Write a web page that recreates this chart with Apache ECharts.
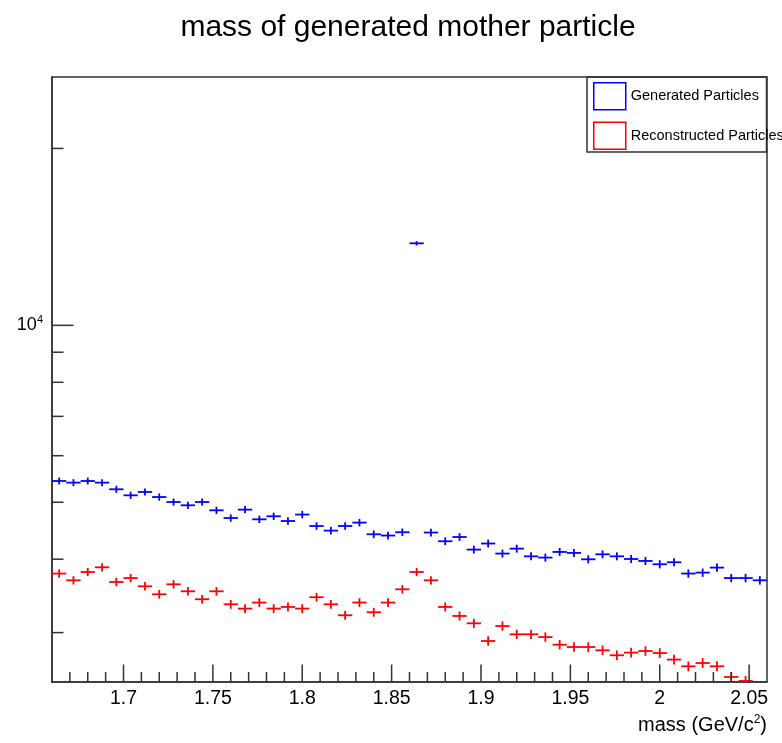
<!DOCTYPE html>
<html><head><meta charset="utf-8">
<script src="https://cdn.jsdelivr.net/npm/echarts@6/dist/echarts.min.js"></script>
<style>html,body{margin:0;padding:0;background:#fff}#c{width:782px;height:743px}</style>
</head><body><div id="c"></div>
<script>
// ---- data ----
const binWidth = 0.008;
const binCenters = [1.664,1.672,1.680,1.688,1.696,1.704,1.712,1.720,1.728,1.736,
  1.744,1.752,1.760,1.768,1.776,1.784,1.792,1.800,1.808,1.816,
  1.824,1.832,1.840,1.848,1.856,1.864,1.872,1.880,1.888,1.896,
  1.904,1.912,1.920,1.928,1.936,1.944,1.952,1.960,1.968,1.976,
  1.984,1.992,2.000,2.008,2.016,2.024,2.032,2.040,2.048,2.056];
const generated = [5434,5399,5434,5399,5260,5137,5205,5103,5004,4940,
  5004,4844,4700,4857,4676,4732,4645,4764,4555,4474,
  4555,4616,4410,4388,4445,13790,4440,4291,4363,4153,
  4253,4089,4169,4045,4025,4115,4099,3998,4077,4045,
  4003,3972,3921,3952,3781,3795,3870,3715,3715,3682];
const reconstructed = [3781,3682,3804,3875,3658,3715,3597,3486,3625,3527,
  3419,3527,3352,3296,3375,3296,3317,3296,3446,3352,
  3211,3375,3249,3375,3555,3804,3682,3317,3202,3111,
  2903,3078,2980,2980,2948,2861,2835,2835,2799,2745,
  2774,2791,2769,2699,2629,2663,2629,2521,2482,2400];
const xRange = [1.66, 2.06];
const yRange = [2472, 26460];
const xLabelValues = [1.7,1.75,1.8,1.85,1.9,1.95,2.0,2.05];
const xLabelTexts = ['1.7','1.75','1.8','1.85','1.9','1.95','2','2.05'];
const xMinorTicks = [1.67,1.68,1.69,1.71,1.72,1.73,1.74,1.76,1.77,1.78,1.79,
  1.81,1.82,1.83,1.84,1.86,1.87,1.88,1.89,1.91,1.92,1.93,1.94,
  1.96,1.97,1.98,1.99,2.01,2.02,2.03,2.04];
const yMajorTicks = [10000];
const yMinorTicks = [3000,4000,5000,6000,7000,8000,9000,20000];
const seriesNames = ['Generated Particles','Reconstructed Particles'];

// ---- chart ----
const FONT = '"Liberation Sans",Arial,Helvetica,sans-serif';
const AXC = '#333';
const chart = echarts.init(document.getElementById('c'), null, {renderer:'canvas'});

function histRender(color){
  return function(params, api){
    const c = api.value(0), v = api.value(1), e = Math.sqrt(v);
    const a = api.coord([c - binWidth/2, v]);
    const b = api.coord([c + binWidth/2, v]);
    const t = api.coord([c, v + e]);
    const d = api.coord([c, v - e]);
    return {type:'group', children:[
      {type:'line', shape:{x1:a[0],y1:a[1],x2:b[0],y2:b[1]}, style:{stroke:color,lineWidth:1.8}},
      {type:'line', shape:{x1:t[0],y1:t[1],x2:d[0],y2:d[1]}, style:{stroke:color,lineWidth:1.8}}
    ]};
  };
}
function xTickRender(len){
  return function(params, api){
    const p = api.coord([api.value(0), yRange[0]]);
    return {type:'line', shape:{x1:p[0],y1:p[1],x2:p[0],y2:p[1]-len}, style:{stroke:AXC,lineWidth:1.5}};
  };
}
function yTickRender(len){
  return function(params, api){
    const p = api.coord([xRange[0], api.value(1)]);
    return {type:'line', shape:{x1:p[0],y1:p[1],x2:p[0]+len,y2:p[1]}, style:{stroke:AXC,lineWidth:1.5}};
  };
}

const option = {
  animation:false,
  backgroundColor:'#fff',
  title:{
    text:'mass of generated mother particle',
    left:408, textAlign:'center', top:13, padding:0,
    textStyle:{fontFamily:FONT, fontSize:30, fontWeight:'normal', color:'#000'}
  },
  grid:{left:52, right:15, top:77, bottom:61, outerBoundsMode:'none', containLabel:false,
    show:true, borderColor:AXC, borderWidth:1.5, backgroundColor:'transparent'},
  legend:{
    orient:'vertical', left:593, top:82, padding:0, itemGap:11,
    itemWidth:32, itemHeight:27, icon:'rect',
    textStyle:{fontFamily:FONT, fontSize:14.5, color:'#000'},
    data:[
      {name:seriesNames[0], itemStyle:{color:'#fff', borderColor:'#0000ff', borderWidth:1.5}},
      {name:seriesNames[1], itemStyle:{color:'#fff', borderColor:'#ff0000', borderWidth:1.5}}
    ]
  },
  graphic:[{type:'rect', shape:{x:587, y:77, width:179.5, height:75}, style:{fill:null, stroke:AXC, lineWidth:1.5}, z:-1}],
  xAxis:{
    type:'value', min:xRange[0], max:xRange[1], splitNumber:8,
    axisLine:{lineStyle:{color:AXC, width:1.5}},
    axisTick:{show:false}, splitLine:{show:false},
    axisLabel:{
      margin:7, color:'#000', fontFamily:FONT, fontSize:19.5,
      formatter:function(v){
        for(let i=0;i<xLabelValues.length;i++) if(Math.abs(xLabelValues[i]-v)<1e-7) return xLabelTexts[i];
        return '';
      }
    },
    name:'{n|mass (GeV/c}{s|2}{n|)}', nameLocation:'end', nameGap:0,
    nameTextStyle:{align:'right', verticalAlign:'top', padding:[32,0,0,0],
      rich:{n:{fontFamily:FONT, fontSize:20, color:'#000', lineHeight:23},
            s:{fontFamily:FONT, fontSize:12, color:'#000', lineHeight:14, verticalAlign:'top'}}}
  },
  yAxis:{
    type:'log', logBase:10, min:yRange[0], max:yRange[1],
    axisLine:{lineStyle:{color:AXC, width:1.5}},
    axisTick:{show:false}, splitLine:{show:false}, minorTick:{show:false},
    axisLabel:{
      margin:9, color:'#000',
      formatter:function(v){ return Math.abs(Math.log10(v)-4)<1e-6 ? '{b|10}{s|4}' : ''; },
      rich:{b:{fontFamily:FONT, fontSize:18, color:'#000', lineHeight:22},
            s:{fontFamily:FONT, fontSize:11, color:'#000', lineHeight:12, verticalAlign:'top'}}
    }
  },
  series:[
    {name:seriesNames[0], type:'custom', clip:true, renderItem:histRender('#0000ff'),
      itemStyle:{color:'#0000ff'}, encode:{x:0,y:1},
      data:binCenters.map((c,i)=>[c, generated[i]])},
    {name:seriesNames[1], type:'custom', clip:true, renderItem:histRender('#ff0000'),
      itemStyle:{color:'#ff0000'}, encode:{x:0,y:1},
      data:binCenters.map((c,i)=>[c, reconstructed[i]])},
    {name:'xMajor', type:'custom', silent:true, renderItem:xTickRender(17.5), encode:{x:0,y:1},
      data:xLabelValues.map(v=>[v, yRange[0]])},
    {name:'xMinor', type:'custom', silent:true, renderItem:xTickRender(10), encode:{x:0,y:1},
      data:xMinorTicks.map(v=>[v, yRange[0]])},
    {name:'yMajor', type:'custom', silent:true, renderItem:yTickRender(21.5), encode:{x:0,y:1},
      data:yMajorTicks.map(v=>[xRange[0], v])},
    {name:'yMinor', type:'custom', silent:true, renderItem:yTickRender(11.5), encode:{x:0,y:1},
      data:yMinorTicks.map(v=>[xRange[0], v])}
  ]
};
chart.setOption(option);
</script></body></html>
